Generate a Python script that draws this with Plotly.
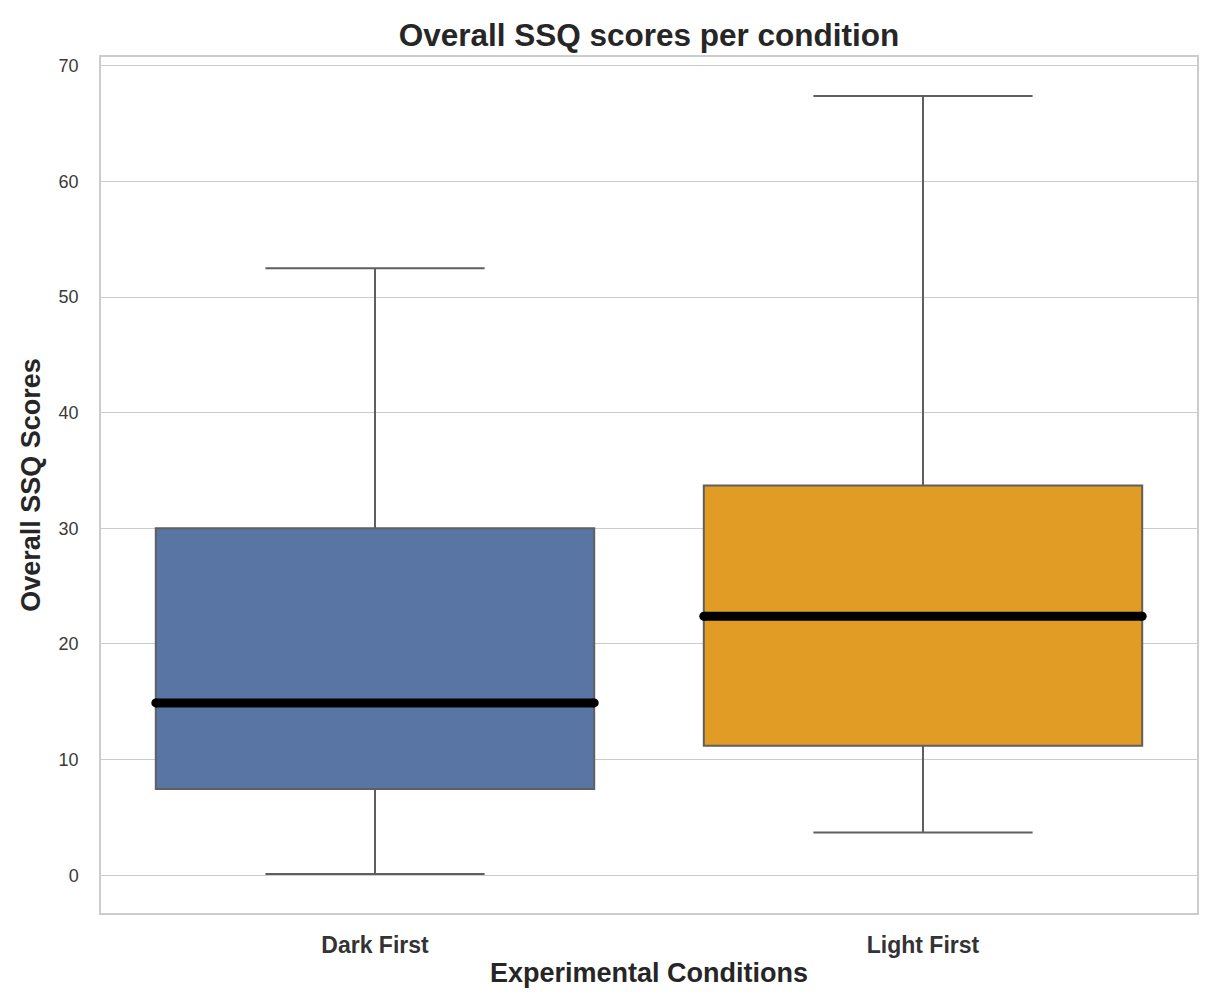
import plotly.graph_objects as go

categories = ["Dark First", "Light First"]
q1 = [7.45, 11.2]
median = [14.9, 22.4]
q3 = [30.0, 33.7]
lower_whisker = [0.1, 3.7]
upper_whisker = [52.5, 67.4]
fill_colors = ["#5975a4", "#e09c24"]

positions = list(range(len(categories)))
box_w = 0.8

fig = go.Figure()
for i, cat in enumerate(categories):
    fig.add_trace(go.Box(
        x=[positions[i]], q1=[q1[i]], median=[median[i]], q3=[q3[i]],
        lowerfence=[lower_whisker[i]], upperfence=[upper_whisker[i]],
        width=box_w, whiskerwidth=0.5,
        fillcolor=fill_colors[i],
        line=dict(color="#5f5f5f", width=2),
        boxpoints=False, name=cat, showlegend=False, hoverinfo="skip",
    ))
    fig.add_trace(go.Scatter(
        x=[positions[i] - box_w / 2, positions[i] + box_w / 2],
        y=[median[i], median[i]],
        mode="lines+markers", line=dict(color="black", width=9),
        marker=dict(color="black", size=9, line=dict(width=0)),
        showlegend=False, hoverinfo="skip",
    ))

fig.update_layout(
    width=1203, height=990,
    paper_bgcolor="white", plot_bgcolor="white",
    margin=dict(l=93, r=12, t=49, b=85),
    font=dict(family="Liberation Sans, Arial, sans-serif", color="#333333"),
    title=dict(text="<b>Overall SSQ scores per condition</b>", xref="paper", x=0.5, xanchor="center",
               y=1 - 27 / 990, yanchor="middle",
               font=dict(size=31.5, color="#262626")),
)
fig.update_xaxes(
    range=[-0.5, len(categories) - 0.5],
    tickvals=positions, ticktext=["<b>%s</b>" % c for c in categories],
    tickfont=dict(size=23, color="#333333"),
    showgrid=False, zeroline=False,
    showline=True, mirror=True, linecolor="#cccccc", linewidth=1.5,
    ticks="", ticklabelstandoff=11,
    title=dict(text="<b>Experimental Conditions</b>", font=dict(size=27, color="#262626"), standoff=6),
)
fig.update_yaxes(
    range=[-3.27, 70.77],
    tickvals=[0, 10, 20, 30, 40, 50, 60, 70],
    tickfont=dict(size=18, color="#3a3a3a"),
    showgrid=True, gridcolor="#cccccc", gridwidth=1, zeroline=False,
    showline=True, mirror=True, linecolor="#cccccc", linewidth=1.5,
    ticks="", ticklabelstandoff=17,
    title=dict(text="<b>Overall SSQ Scores</b>", font=dict(size=27, color="#262626"), standoff=10),
)

fig.write_html("out.html")
